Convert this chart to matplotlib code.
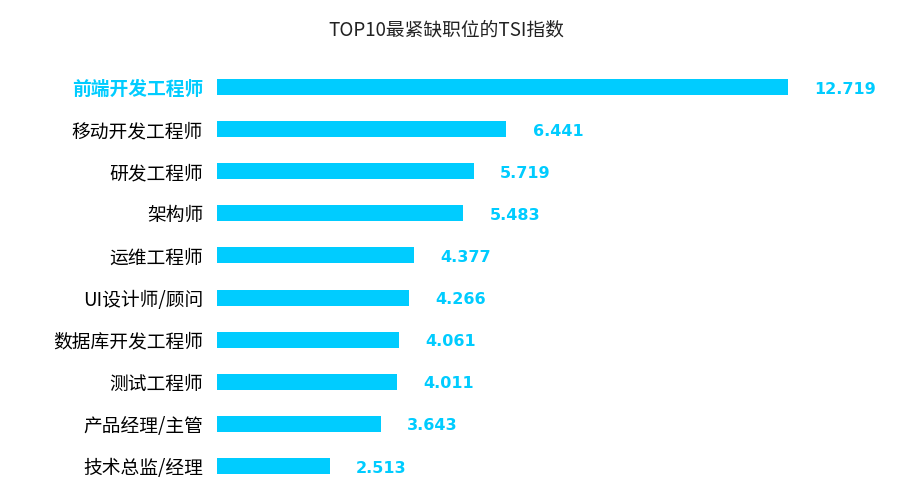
import matplotlib
matplotlib.use("Agg")
import matplotlib.pyplot as plt

plt.rcParams['font.family'] = ['Noto Sans CJK SC', 'DejaVu Sans']

# TOP10 jobs and their TSI index
jobs = ["前端开发工程师", "移动开发工程师", "研发工程师", "架构师", "运维工程师",
        "UI设计师/顾问", "数据库开发工程师", "测试工程师", "产品经理/主管", "技术总监/经理"]
tsi = [12.719, 6.441, 5.719, 5.483, 4.377, 4.266, 4.061, 4.011, 3.643, 2.513]

bar_color = "#00CCFF"

fig = plt.figure(figsize=(8.98, 4.98), dpi=100)
ax = fig.add_axes([217 / 898, 11 / 498, 651 / 898, 421 / 498])

ypos = list(range(len(jobs)))
ax.barh(ypos, tsi, height=0.38, color=bar_color)
ax.set_ylim(len(jobs) - 0.5, -0.5)
ax.set_xlim(0, 14.5)

ax.set_yticks(ypos)
ax.set_yticklabels(jobs, fontsize=13.5)
ax.tick_params(axis='y', length=0, pad=10)
ax.set_xticks([])
for lbl in ax.get_yticklabels()[:1]:
    lbl.set_color(bar_color)
    lbl.set_fontweight('bold')

for s in ax.spines.values():
    s.set_visible(False)

for y, v in zip(ypos, tsi):
    ax.annotate("%.3f" % v, xy=(v, y), xytext=(19, -1.5), textcoords="offset points",
                ha='left', va='center', color=bar_color, fontsize=11.5,
                fontweight='bold', family='DejaVu Sans')

fig.text(446 / 898, 1 - 30 / 498, "TOP10最紧缺职位的TSI指数", ha='center', va='center',
         fontsize=13.5, color='#222222')

fig.savefig("out.png", dpi=100)
